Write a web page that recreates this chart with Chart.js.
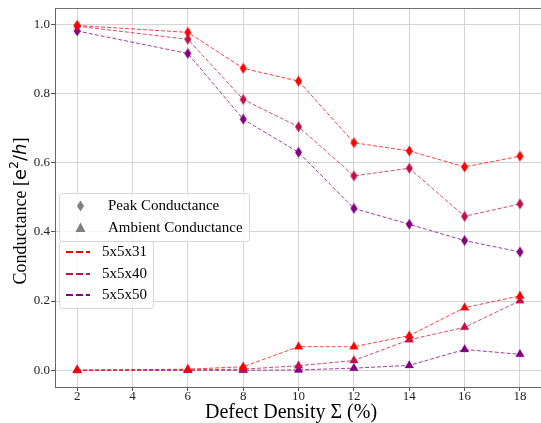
<!DOCTYPE html>
<html>
<head>
<meta charset="utf-8">
<script src="https://cdn.jsdelivr.net/npm/chart.js@4.4.1/dist/chart.umd.min.js"></script>
<style>
  html, body { margin: 0; padding: 0; background: #fff; }
  #wrap { width: 541px; height: 423px; }
</style>
</head>
<body>
<div id="wrap"><canvas id="chart" width="541" height="423"></canvas></div>
<script>
// data
const densities = [2, 6, 8, 10, 12, 14, 16, 18]
const sizes = ['5x5x31', '5x5x40', '5x5x50']
const sizeColors = ['#ff0000', '#c0104a', '#800080']

const peak31 = [0.997, 0.977, 0.873, 0.836, 0.658, 0.634, 0.588, 0.619]
const peak40 = [0.995, 0.957, 0.783, 0.704, 0.562, 0.584, 0.445, 0.481]
const peak50 = [0.981, 0.916, 0.726, 0.630, 0.468, 0.422, 0.375, 0.342]

const ambient31 = [0.0, 0.003, 0.010, 0.068, 0.068, 0.100, 0.181, 0.215]
const ambient40 = [0.0, 0.001, 0.003, 0.013, 0.028, 0.088, 0.124, 0.201]
const ambient50 = [0.0, 0.0, 0.0, 0.001, 0.006, 0.014, 0.060, 0.046]

const xTicks = [2, 4, 6, 8, 10, 12, 14, 16, 18]
const yTicks = [0.0, 0.2, 0.4, 0.6, 0.8, 1.0]

const peaks = [peak31, peak40, peak50]
const ambients = [ambient31, ambient40, ambient50]

const serif = '"Liberation Serif", "Times New Roman", serif'
const mathFont = '"DejaVu Sans", sans-serif'

// thin diamond like matplotlib 'd'
function thinDiamond(color) {
  const c = document.createElement('canvas')
  c.width = 9
  c.height = 12
  const g = c.getContext('2d')
  g.beginPath()
  g.moveTo(4.5, 0.5)
  g.lineTo(8, 6)
  g.lineTo(4.5, 11.5)
  g.lineTo(1, 6)
  g.closePath()
  g.fillStyle = color
  g.fill()
  return c
}

function withAlpha(hex, a) {
  const r = parseInt(hex.slice(1, 3), 16)
  const g = parseInt(hex.slice(3, 5), 16)
  const b = parseInt(hex.slice(5, 7), 16)
  return `rgba(${r}, ${g}, ${b}, ${a})`
}

function toPoints(values) {
  return densities.map((d, i) => ({x: d, y: values[i]}))
}

let datasets = []
for (let i = 0; i < sizes.length; i++) {
  datasets.push({
    label: sizes[i] + ' peak',
    data: toPoints(peaks[i]),
    borderColor: withAlpha(sizeColors[i], 0.75),
    borderWidth: 1,
    borderDash: [4, 2],
    pointStyle: thinDiamond(sizeColors[i]),
    pointRadius: 5,
    backgroundColor: sizeColors[i]
  })
  datasets.push({
    label: sizes[i] + ' ambient',
    data: toPoints(ambients[i]),
    borderColor: withAlpha(sizeColors[i], 0.75),
    borderWidth: 1,
    borderDash: [4, 2],
    pointStyle: 'triangle',
    pointRadius: 5,
    pointBorderWidth: 0.5,
    pointBackgroundColor: sizeColors[i],
    pointBorderColor: withAlpha(sizeColors[i], 0.6),
    backgroundColor: sizeColors[i]
  })
}

// axis titles, top spine and the two legend boxes
const decorations = {
  id: 'decorations',
  afterDatasetsDraw(chart) {
    const ctx = chart.ctx
    const area = chart.chartArea
    ctx.save()

    // top spine
    ctx.strokeStyle = '#707070'
    ctx.lineWidth = 1
    ctx.beginPath()
    ctx.moveTo(area.left, area.top + 0.5)
    ctx.lineTo(area.right, area.top + 0.5)
    ctx.stroke()

    // x title
    ctx.fillStyle = '#000'
    ctx.font = '20px ' + serif
    ctx.textAlign = 'center'
    ctx.textBaseline = 'alphabetic'
    ctx.fillText('Defect Density Σ (%)', 291, 418)

    // y title, mixed fonts like mathtext
    const parts = [
      {t: 'Conductance [', f: '18px ' + serif, dy: 0},
      {t: 'e', f: '18px ' + mathFont, dy: 0},
      {t: '2', f: '12.5px ' + mathFont, dy: -8},
      {t: '/', f: '18px ' + mathFont, dy: 0},
      {t: 'h', f: 'italic 18px ' + mathFont, dy: 0},
      {t: ']', f: '18px ' + serif, dy: 0}
    ]
    let total = 0
    parts.forEach(p => { ctx.font = p.f; p.w = ctx.measureText(p.t).width; total += p.w })
    ctx.translate(26, 211)
    ctx.rotate(-Math.PI / 2)
    ctx.textAlign = 'left'
    let x = -total / 2
    parts.forEach(p => {
      ctx.font = p.f
      ctx.fillText(p.t, x, p.dy)
      x += p.w
    })
    ctx.setTransform(1, 0, 0, 1, 0, 0)

    // legend 1: marker kinds
    ctx.fillStyle = 'rgba(255, 255, 255, 0.8)'
    ctx.strokeStyle = '#d6d6d6'
    ctx.lineWidth = 1
    ctx.beginPath()
    ctx.roundRect(59.5, 193.5, 190, 48, 3)
    ctx.fill()
    ctx.stroke()

    ctx.drawImage(thinDiamond('#808080'), 76, 200)
    ctx.fillStyle = '#808080'
    ctx.beginPath()
    ctx.moveTo(80.5, 222.5)
    ctx.lineTo(85.5, 232)
    ctx.lineTo(75.5, 232)
    ctx.closePath()
    ctx.fill()

    ctx.fillStyle = '#000'
    ctx.font = '15px ' + serif
    ctx.textAlign = 'left'
    ctx.textBaseline = 'middle'
    ctx.fillText('Peak Conductance', 108, 206)
    ctx.fillText('Ambient Conductance', 108, 228)

    // legend 2: system sizes
    ctx.fillStyle = 'rgba(255, 255, 255, 0.8)'
    ctx.strokeStyle = '#d6d6d6'
    ctx.beginPath()
    ctx.roundRect(59.5, 241.5, 94, 67, 3)
    ctx.fill()
    ctx.stroke()

    const rows = [252, 274, 295]
    for (let i = 0; i < sizes.length; i++) {
      ctx.strokeStyle = sizeColors[i]
      ctx.lineWidth = 2
      ctx.setLineDash([7, 3])
      ctx.beginPath()
      ctx.moveTo(66, rows[i])
      ctx.lineTo(90, rows[i])
      ctx.stroke()
      ctx.setLineDash([])
      ctx.fillStyle = '#000'
      ctx.fillText(sizes[i], 102, rows[i])
    }
    ctx.restore()
  }
}

const config = {
  type: 'line',
  data: {datasets: datasets},
  options: {
    responsive: false,
    animation: false,
    layout: {autoPadding: false, padding: {top: 8, right: 0, left: 0, bottom: 0}},
    plugins: {
      legend: {display: false},
      tooltip: {enabled: false}
    },
    scales: {
      x: {
        type: 'linear',
        min: 1.2,
        max: 18.76,
        afterFit: function(scale) {
          scale.height = 36
          scale.paddingLeft = 0
          scale.paddingRight = 0
        },
        afterBuildTicks: function(scale) { scale.ticks = xTicks.map(v => ({value: v})) },
        grid: {color: '#d4d4d4', lineWidth: 1, tickLength: 4, tickColor: '#555'},
        border: {color: '#666', width: 1},
        ticks: {
          color: '#222',
          padding: -2,
          maxRotation: 0,
          font: {family: serif, size: 13},
          callback: v => String(v)
        }
      },
      y: {
        type: 'linear',
        min: -0.0485,
        max: 1.0475,
        afterFit: function(scale) {
          scale.width = 55
          scale.paddingTop = 0
          scale.paddingBottom = 0
        },
        afterBuildTicks: function(scale) { scale.ticks = yTicks.map(v => ({value: v})) },
        grid: {color: '#d4d4d4', lineWidth: 1, tickLength: 4, tickColor: '#555'},
        border: {color: '#666', width: 1},
        ticks: {
          color: '#222',
          padding: 1,
          font: {family: serif, size: 13},
          callback: v => v.toFixed(1)
        }
      }
    }
  },
  plugins: [decorations]
}

const chartjs_line = new Chart(document.getElementById('chart'), config)
</script>
</body>
</html>
